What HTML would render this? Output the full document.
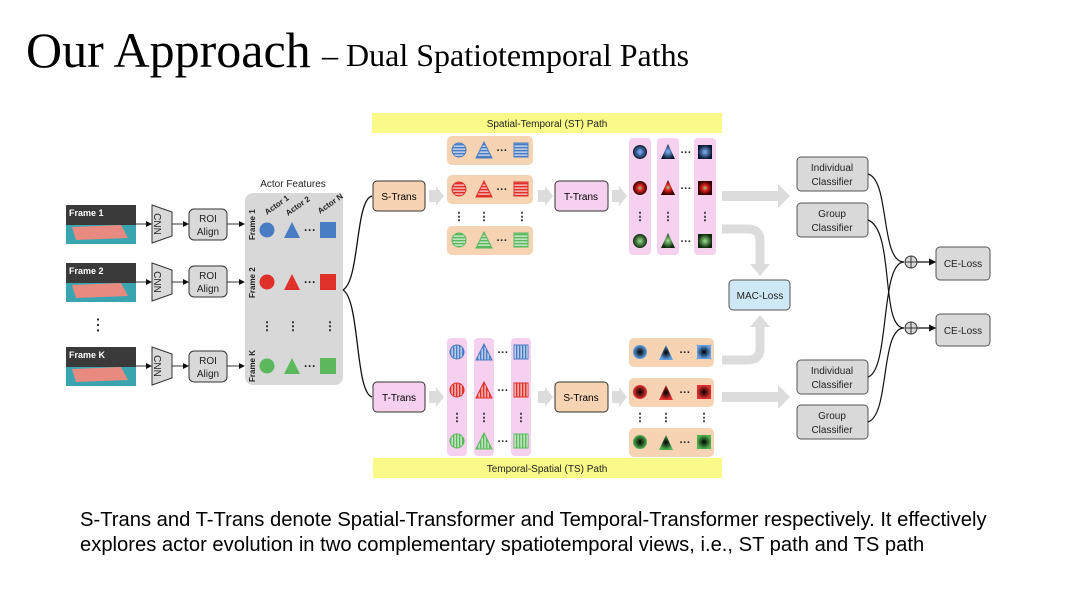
<!DOCTYPE html>
<html><head><meta charset="utf-8"><style>
html,body{margin:0;padding:0;background:#fff;}
svg{display:block;}
</style></head><body>
<svg width="1072" height="604" viewBox="0 0 1072 604" xmlns="http://www.w3.org/2000/svg" font-family="Liberation Sans, sans-serif">
<defs>
<marker id="ah" markerWidth="6" markerHeight="6" refX="5" refY="3" orient="auto"><path d="M0,0 L6,3 L0,6 z" fill="#111"/></marker>
<radialGradient id="gb"><stop offset="0" stop-color="#7fb6ff"/><stop offset="1" stop-color="#0b1a33"/></radialGradient>
<radialGradient id="gr"><stop offset="0" stop-color="#8fd27a"/><stop offset=".4" stop-color="#e02020"/><stop offset="1" stop-color="#300"/></radialGradient>
<radialGradient id="gg"><stop offset="0" stop-color="#9fe08f"/><stop offset="1" stop-color="#0b2a0b"/></radialGradient>
<radialGradient id="ib"><stop offset="0" stop-color="#000"/><stop offset="1" stop-color="#5fa0e8"/></radialGradient>
<radialGradient id="ir"><stop offset="0" stop-color="#000"/><stop offset="1" stop-color="#e83030"/></radialGradient>
<radialGradient id="ig"><stop offset="0" stop-color="#000"/><stop offset="1" stop-color="#50b050"/></radialGradient>
<pattern id="hb" width="4" height="3" patternUnits="userSpaceOnUse"><rect width="4" height="3" fill="#4a7cc4"/><rect y="1.6" width="4" height="1" fill="#fff"/></pattern>
<pattern id="hr" width="4" height="3" patternUnits="userSpaceOnUse"><rect width="4" height="3" fill="#e0302a"/><rect y="1.6" width="4" height="1" fill="#fff"/></pattern>
<pattern id="hg" width="4" height="3" patternUnits="userSpaceOnUse"><rect width="4" height="3" fill="#5cb85c"/><rect y="1.6" width="4" height="1" fill="#fff"/></pattern>
<pattern id="vb" width="3" height="4" patternUnits="userSpaceOnUse"><rect width="3" height="4" fill="#4a7cc4"/><rect x="1.6" width="1" height="4" fill="#fff"/></pattern>
<pattern id="vr" width="3" height="4" patternUnits="userSpaceOnUse"><rect width="3" height="4" fill="#e0302a"/><rect x="1.6" width="1" height="4" fill="#fff"/></pattern>
<pattern id="vg" width="3" height="4" patternUnits="userSpaceOnUse"><rect width="3" height="4" fill="#5cb85c"/><rect x="1.6" width="1" height="4" fill="#fff"/></pattern>
</defs>

<text x="26" y="67" font-family="Liberation Serif, serif" font-size="50">Our Approach</text>
<text x="322" y="66" font-family="Liberation Serif, serif" font-size="32">– Dual Spatiotemporal Paths</text>

<text x="80" y="526" font-size="20.2">S-Trans and T-Trans denote Spatial-Transformer and Temporal-Transformer respectively. It effectively</text>
<text x="80" y="551" font-size="20.2">explores actor evolution in two complementary spatiotemporal views, i.e., ST path and TS path</text>

<!-- frames -->
<g font-size="9" font-weight="bold" fill="#fff">
<g transform="translate(66,205)"><rect width="70" height="39" fill="#3a3a3a"/><rect y="20" width="70" height="19" fill="#3aa5b0"/><polygon points="6,22 55,20 62,33 10,35" fill="#e88a80"/><text x="3" y="11">Frame 1</text></g>
<g transform="translate(66,263)"><rect width="70" height="39" fill="#3a3a3a"/><rect y="20" width="70" height="19" fill="#3aa5b0"/><polygon points="6,22 55,20 62,33 10,35" fill="#e88a80"/><text x="3" y="11">Frame 2</text></g>
<g transform="translate(66,347)"><rect width="70" height="39" fill="#3a3a3a"/><rect y="20" width="70" height="19" fill="#3aa5b0"/><polygon points="6,22 55,20 62,33 10,35" fill="#e88a80"/><text x="3" y="11">Frame K</text></g>
</g>
<text x="98" y="330" font-size="16" text-anchor="middle">⋮</text>

<!-- CNN + ROI -->
<g stroke="#333" stroke-width="1" font-size="10">
<g><polygon points="152,205 172,212 172,236 152,243" fill="#d9d9d9"/><polygon points="152,263 172,270 172,294 152,301" fill="#d9d9d9"/><polygon points="152,347 172,354 172,378 152,385" fill="#d9d9d9"/></g>
<rect x="189" y="209" width="38" height="31" rx="5" fill="#d9d9d9"/>
<rect x="189" y="266" width="38" height="31" rx="5" fill="#d9d9d9"/>
<rect x="189" y="351" width="38" height="31" rx="5" fill="#d9d9d9"/>
<line x1="136" y1="224" x2="151" y2="224" marker-end="url(#ah)"/>
<line x1="136" y1="282" x2="151" y2="282" marker-end="url(#ah)"/>
<line x1="136" y1="366" x2="151" y2="366" marker-end="url(#ah)"/>
<line x1="172" y1="224" x2="188" y2="224" marker-end="url(#ah)"/>
<line x1="172" y1="282" x2="188" y2="282" marker-end="url(#ah)"/>
<line x1="172" y1="366" x2="188" y2="366" marker-end="url(#ah)"/>
<line x1="227" y1="224" x2="244" y2="224" marker-end="url(#ah)"/>
<line x1="227" y1="282" x2="244" y2="282" marker-end="url(#ah)"/>
<line x1="227" y1="366" x2="244" y2="366" marker-end="url(#ah)"/>
</g>
<g font-size="10" text-anchor="middle" fill="#222">
<text transform="translate(158,224) rotate(90)" y="4">CNN</text>
<text transform="translate(158,282) rotate(90)" y="4">CNN</text>
<text transform="translate(158,366) rotate(90)" y="4">CNN</text>
<text x="208" y="222">ROI</text><text x="208" y="235">Align</text>
<text x="208" y="279">ROI</text><text x="208" y="292">Align</text>
<text x="208" y="364">ROI</text><text x="208" y="377">Align</text>
</g>

<!-- actor features -->
<text x="293" y="187" font-size="10" text-anchor="middle" fill="#222">Actor Features</text>
<rect x="245" y="193" width="98" height="192" rx="8" fill="#d8d8d8"/>
<g font-size="8" font-weight="bold" fill="#222">
<text transform="translate(267,215) rotate(-35)">Actor 1</text>
<text transform="translate(288,216) rotate(-35)">Actor 2</text>
<text transform="translate(320,214) rotate(-35)">Actor N</text>
<text transform="translate(255,240) rotate(-90)">Frame 1</text>
<text transform="translate(255,298) rotate(-90)">Frame 2</text>
<text transform="translate(255,382) rotate(-90)">Frame K</text>
</g>
<circle cx="267" cy="230" r="7.5" fill="#4a7cc4"/><polygon points="292,222 300,238 284,238" fill="#4a7cc4"/><rect x="320" y="222" width="16" height="16" fill="#4a7cc4"/>
<circle cx="267" cy="282" r="7.5" fill="#e0302a"/><polygon points="292,274 300,290 284,290" fill="#e0302a"/><rect x="320" y="274" width="16" height="16" fill="#e0302a"/>
<circle cx="267" cy="366" r="7.5" fill="#5cb85c"/><polygon points="292,358 300,374 284,374" fill="#5cb85c"/><rect x="320" y="358" width="16" height="16" fill="#5cb85c"/>
<g font-size="12" font-weight="bold" fill="#222" text-anchor="middle">
<text x="310" y="234">···</text><text x="310" y="286">···</text><text x="310" y="370">···</text>
<text x="267" y="330">⋮</text><text x="293" y="330">⋮</text><text x="330" y="330">⋮</text>
</g>
<path d="M343,290 C360,280 355,200 372,196" fill="none" stroke="#111" stroke-width="1.3"/>
<path d="M343,290 C360,300 355,392 372,397" fill="none" stroke="#111" stroke-width="1.3"/>

<!-- banners -->
<rect x="372" y="113" width="350" height="20" fill="#fafa88"/>
<text x="547" y="127" font-size="10" text-anchor="middle" fill="#222">Spatial-Temporal (ST) Path</text>
<rect x="373" y="458" width="349" height="20" fill="#fafa88"/>
<text x="547" y="472" font-size="10" text-anchor="middle" fill="#222">Temporal-Spatial (TS) Path</text>

<!-- gray arrows -->
<g fill="#dcdcdc">
<polygon points="429,190 436,190 436,186 444,196 436,206 436,202 429,202"/>
<polygon points="538,190 545,190 545,186 553,196 545,206 545,202 538,202"/>
<polygon points="612,190 619,190 619,186 627,196 619,206 619,202 612,202"/>
<polygon points="429,391 436,391 436,387 444,397 436,407 436,403 429,403"/>
<polygon points="538,391 545,391 545,387 553,397 545,407 545,403 538,403"/>
<polygon points="612,391 619,391 619,387 627,397 619,407 619,403 612,403"/>
<polygon points="722,191 778,191 778,184 790,196 778,208 778,201 722,201"/>
<polygon points="722,392 778,392 778,385 790,397 778,409 778,402 722,402"/>
</g>
<path d="M722,229 H748 Q760,229 760,241 V265" fill="none" stroke="#dcdcdc" stroke-width="9"/>
<polygon points="750,264 770,264 760,276" fill="#dcdcdc"/>
<path d="M722,360 H748 Q760,360 760,348 V326" fill="none" stroke="#dcdcdc" stroke-width="9"/>
<polygon points="750,327 770,327 760,315" fill="#dcdcdc"/>

<!-- ST path -->
<rect x="373" y="181" width="52" height="30" rx="4" fill="#f5d3b3" stroke="#333"/>
<text x="399" y="200" font-size="10" text-anchor="middle">S-Trans</text>
<rect x="447" y="136" width="86" height="29" rx="5" fill="#f5d3b3"/>
<rect x="447" y="175" width="86" height="29" rx="5" fill="#f5d3b3"/>
<rect x="447" y="226" width="86" height="29" rx="5" fill="#f5d3b3"/>
<g stroke-width="1">
<circle cx="459" cy="150" r="7" fill="url(#hb)" stroke="#4a7cc4"/><polygon points="484,142 492,158 476,158" fill="url(#hb)" stroke="#4a7cc4"/><rect x="514" y="143" width="14" height="14" fill="url(#hb)" stroke="#4a7cc4"/>
<circle cx="459" cy="189" r="7" fill="url(#hr)" stroke="#e0302a"/><polygon points="484,181 492,197 476,197" fill="url(#hr)" stroke="#e0302a"/><rect x="514" y="182" width="14" height="14" fill="url(#hr)" stroke="#e0302a"/>
<circle cx="459" cy="240" r="7" fill="url(#hg)" stroke="#5cb85c"/><polygon points="484,232 492,248 476,248" fill="url(#hg)" stroke="#5cb85c"/><rect x="514" y="233" width="14" height="14" fill="url(#hg)" stroke="#5cb85c"/>
</g>
<g font-size="11" font-weight="bold" text-anchor="middle" fill="#222">
<text x="502" y="154">···</text><text x="502" y="193">···</text><text x="502" y="244">···</text>
<text x="459" y="220">⋮</text><text x="484" y="220">⋮</text><text x="522" y="220">⋮</text>
</g>
<rect x="555" y="181" width="53" height="30" rx="4" fill="#f5d0ef" stroke="#333"/>
<text x="581" y="200" font-size="10" text-anchor="middle">T-Trans</text>
<rect x="629" y="138" width="22" height="117" rx="4" fill="#f5d0ef"/>
<rect x="657" y="138" width="22" height="117" rx="4" fill="#f5d0ef"/>
<rect x="694" y="138" width="22" height="117" rx="4" fill="#f5d0ef"/>
<circle cx="640" cy="152" r="7" fill="url(#gb)"/><polygon points="668,144 675,159 661,159" fill="url(#gb)"/><rect x="698" y="145" width="14" height="14" fill="url(#gb)"/>
<circle cx="640" cy="188" r="7" fill="url(#gr)"/><polygon points="668,180 675,195 661,195" fill="url(#gr)"/><rect x="698" y="181" width="14" height="14" fill="url(#gr)"/>
<circle cx="640" cy="241" r="7" fill="url(#gg)"/><polygon points="668,233 675,248 661,248" fill="url(#gg)"/><rect x="698" y="234" width="14" height="14" fill="url(#gg)"/>
<g font-size="11" font-weight="bold" text-anchor="middle" fill="#222">
<text x="686" y="156">···</text><text x="686" y="192">···</text><text x="686" y="245">···</text>
<text x="640" y="220">⋮</text><text x="668" y="220">⋮</text><text x="705" y="220">⋮</text>
</g>

<!-- TS path -->
<rect x="373" y="382" width="52" height="30" rx="4" fill="#f5d0ef" stroke="#333"/>
<text x="399" y="401" font-size="10" text-anchor="middle">T-Trans</text>
<rect x="447" y="338" width="20" height="118" rx="4" fill="#f5d0ef"/>
<rect x="474" y="338" width="20" height="118" rx="4" fill="#f5d0ef"/>
<rect x="511" y="338" width="20" height="118" rx="4" fill="#f5d0ef"/>
<circle cx="457" cy="352" r="7" fill="url(#vb)" stroke="#4a7cc4"/><polygon points="484,344 492,360 476,360" fill="url(#vb)" stroke="#4a7cc4"/><rect x="514" y="345" width="14" height="14" fill="url(#vb)" stroke="#4a7cc4"/>
<circle cx="457" cy="390" r="7" fill="url(#vr)" stroke="#e0302a"/><polygon points="484,382 492,398 476,398" fill="url(#vr)" stroke="#e0302a"/><rect x="514" y="383" width="14" height="14" fill="url(#vr)" stroke="#e0302a"/>
<circle cx="457" cy="441" r="7" fill="url(#vg)" stroke="#5cb85c"/><polygon points="484,433 492,449 476,449" fill="url(#vg)" stroke="#5cb85c"/><rect x="514" y="434" width="14" height="14" fill="url(#vg)" stroke="#5cb85c"/>
<g font-size="11" font-weight="bold" text-anchor="middle" fill="#222">
<text x="503" y="356">···</text><text x="503" y="394">···</text><text x="503" y="445">···</text>
<text x="457" y="421">⋮</text><text x="484" y="421">⋮</text><text x="521" y="421">⋮</text>
</g>
<rect x="555" y="382" width="53" height="30" rx="4" fill="#f5d3b3" stroke="#333"/>
<text x="581" y="401" font-size="10" text-anchor="middle">S-Trans</text>
<rect x="629" y="338" width="85" height="29" rx="5" fill="#f5d3b3"/>
<rect x="629" y="378" width="85" height="29" rx="5" fill="#f5d3b3"/>
<rect x="629" y="428" width="85" height="29" rx="5" fill="#f5d3b3"/>
<circle cx="640" cy="352" r="7" fill="url(#ib)"/><polygon points="666,345 673,360 659,360" fill="url(#ib)"/><rect x="697" y="345" width="14" height="14" fill="url(#ib)"/>
<circle cx="640" cy="392" r="7" fill="url(#ir)"/><polygon points="666,385 673,400 659,400" fill="url(#ir)"/><rect x="697" y="385" width="14" height="14" fill="url(#ir)"/>
<circle cx="640" cy="442" r="7" fill="url(#ig)"/><polygon points="666,435 673,450 659,450" fill="url(#ig)"/><rect x="697" y="435" width="14" height="14" fill="url(#ig)"/>
<g font-size="11" font-weight="bold" text-anchor="middle" fill="#222">
<text x="685" y="356">···</text><text x="685" y="396">···</text><text x="685" y="446">···</text>
<text x="640" y="421">⋮</text><text x="666" y="421">⋮</text><text x="704" y="421">⋮</text>
</g>

<!-- right side -->
<g stroke="#555" stroke-width="1" fill="#d9d9d9">
<rect x="797" y="157" width="71" height="34" rx="4"/>
<rect x="797" y="203" width="71" height="34" rx="4"/>
<rect x="797" y="360" width="71" height="34" rx="4"/>
<rect x="797" y="405" width="71" height="34" rx="4"/>
<rect x="729" y="280" width="61" height="30" rx="4" fill="#cfe8f5"/>
<rect x="936" y="247" width="54" height="33" rx="4"/>
<rect x="936" y="314" width="54" height="32" rx="4"/>
</g>
<g font-size="10" text-anchor="middle" fill="#222">
<text x="832" y="171">Individual</text><text x="832" y="185">Classifier</text>
<text x="832" y="217">Group</text><text x="832" y="231">Classifier</text>
<text x="832" y="374">Individual</text><text x="832" y="388">Classifier</text>
<text x="832" y="419">Group</text><text x="832" y="433">Classifier</text>
<text x="760" y="299">MAC-Loss</text>
<text x="963" y="267">CE-Loss</text><text x="963" y="334">CE-Loss</text>
</g>
<g fill="none" stroke="#111" stroke-width="1.2">
<path d="M868,174 C890,180 880,262 904,262"/>
<path d="M868,220 C895,230 880,328 904,328"/>
<path d="M868,377 C890,370 880,262 904,262"/>
<path d="M868,422 C890,415 880,328 904,328"/>
<line x1="917" y1="262" x2="935" y2="262" marker-end="url(#ah)"/>
<line x1="917" y1="328" x2="935" y2="328" marker-end="url(#ah)"/>
</g>
<g fill="#d9d9d9" stroke="#333">
<circle cx="911" cy="262" r="6"/><circle cx="911" cy="328" r="6"/>
<path d="M905,262 H917 M911,256 V268 M905,328 H917 M911,322 V334"/>
</g>
</svg>
</body></html>
